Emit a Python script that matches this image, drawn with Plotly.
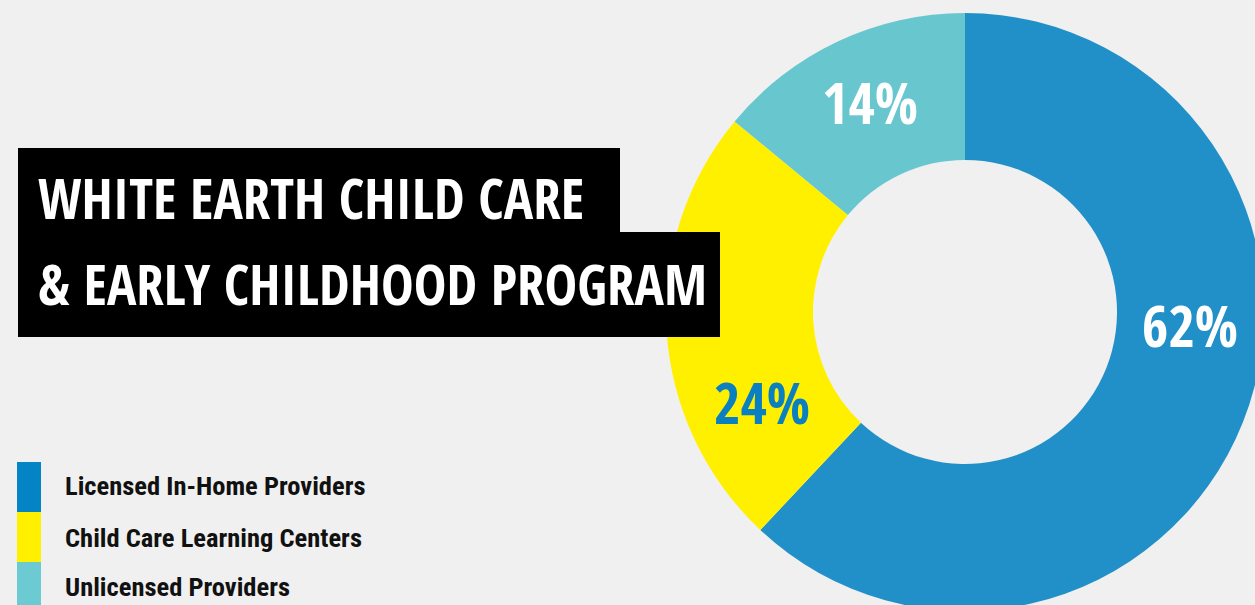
import plotly.graph_objects as go

# ---- data ----
labels = ["Licensed In-Home Providers", "Child Care Learning Centers", "Unlicensed Providers"]
values = [62, 24, 14]
slice_colors = ["#2290c8", "#fff000", "#68c6cf"]
label_colors = ["#ffffff", "#0a80c0", "#ffffff"]
legend_colors = ["#0584c5", "#fff000", "#6ccbd2"]
title_lines = ["WHITE EARTH CHILD CARE", "& EARLY CHILDHOOD PROGRAM"]

# figure is slightly larger than the 1255x605 window so the donut can run off the edge
W, H = 1270, 620
BG = "#f0f0f0"
DISPLAY_FONT = "Open Sans Condensed, Roboto Condensed, sans-serif"
BODY_FONT = "Roboto Condensed, Open Sans Condensed, sans-serif"

# donut geometry (pixels): centre (965, 312), outer radius 299, inner radius 152
CX, CY, R_OUT, R_IN = 965, 312, 299, 152

fig = go.Figure()
fig.add_trace(go.Pie(
    labels=labels, values=values, sort=False, direction="clockwise",
    rotation=0, hole=R_IN / R_OUT,
    marker=dict(colors=slice_colors, line=dict(width=0)),
    textinfo="none", hoverinfo="label+percent", showlegend=False,
    domain=dict(x=[(CX - R_OUT) / W, (CX + R_OUT) / W],
                y=[(H - CY - R_OUT) / H, (H - CY + R_OUT) / H]),
))

# pixel-based helper axes (invisible)
fig.update_xaxes(range=[0, W], visible=False, fixedrange=True, domain=[0, 1])
fig.update_yaxes(range=[H, 0], visible=False, fixedrange=True, domain=[0, 1])

# percentage labels
label_pos = [(1190, 325), (762, 402), (870, 102)]
for (x, y), v, c in zip(label_pos, values, label_colors):
    fig.add_annotation(x=x, y=y, xref="x", yref="y", text=f"{v}%", showarrow=False,
                       xanchor="center", yanchor="middle",
                       font=dict(family=DISPLAY_FONT, size=57, color=c, weight="bold"))

# title boxes
fig.add_shape(type="rect", xref="x", yref="y", x0=18, x1=620, y0=148, y1=234,
              fillcolor="#000000", line=dict(width=0), layer="above")
fig.add_shape(type="rect", xref="x", yref="y", x0=18, x1=720, y0=232, y1=337,
              fillcolor="#000000", line=dict(width=0), layer="above")
for txt, yc in zip(title_lines, [197, 283]):
    fig.add_annotation(x=36, y=yc, xref="x", yref="y", text=txt, showarrow=False,
                       xanchor="left", yanchor="middle",
                       font=dict(family=DISPLAY_FONT, size=55, color="#ffffff", weight="bold"))

# legend
legend_y = [(462, 512), (512, 562), (562, 620)]
legend_text_y = [485, 537, 586]
for name, col, (y0, y1), ty in zip(labels, legend_colors, legend_y, legend_text_y):
    fig.add_shape(type="rect", xref="x", yref="y", x0=17, x1=41, y0=y0, y1=y1,
                  fillcolor=col, line=dict(width=0), layer="above")
    fig.add_annotation(x=63, y=ty, xref="x", yref="y",
                       text=name, showarrow=False, xanchor="left", yanchor="middle",
                       font=dict(family=BODY_FONT, size=26.5, color="#111111", weight="bold"))

fig.update_layout(
    width=W, height=H, margin=dict(l=0, r=0, t=0, b=0),
    paper_bgcolor=BG, plot_bgcolor=BG, showlegend=False,
)
fig.write_html(
    "out.html",
    config={"displayModeBar": False},
    post_script="document.body.style.margin='0';document.body.style.overflow='hidden';"
                "document.body.style.background='#f0f0f0';",
)
